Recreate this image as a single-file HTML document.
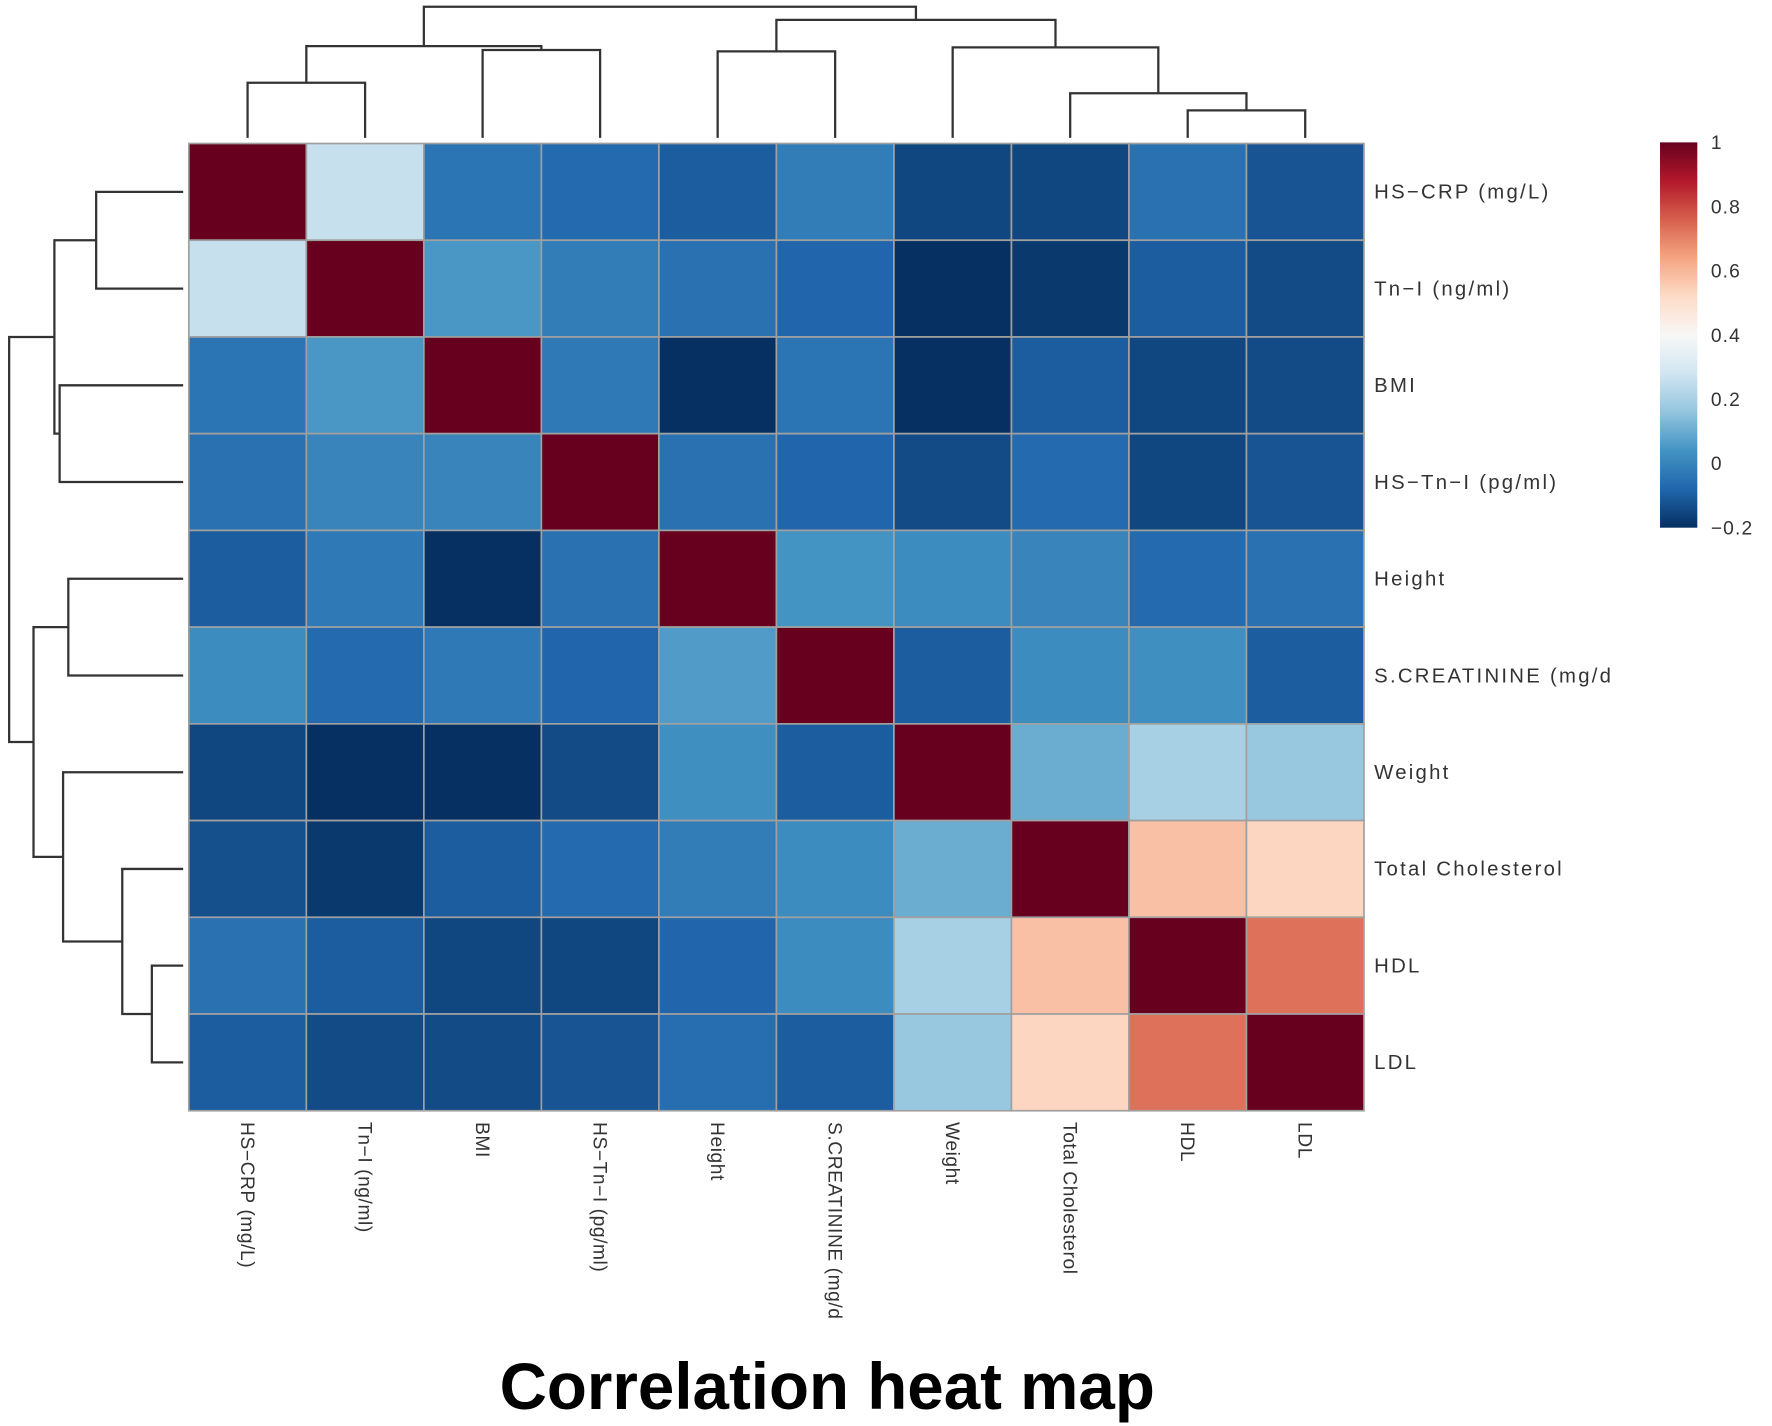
<!DOCTYPE html>
<html><head><meta charset="utf-8"><style>
html,body{margin:0;padding:0;background:#fff;}
svg{display:block;}
text{font-family:"Liberation Sans",sans-serif;}
</style></head><body>
<svg id="chart" width="1772" height="1426" viewBox="0 0 1568 1262" xmlns="http://www.w3.org/2000/svg">
<g id="dendTop"></g>
<g id="dendLeft"></g>
<g id="cells"></g>
<g id="rowLabels"></g>
<g id="colLabels"></g>
<g id="legend"></g>
<text x="732" y="1247" text-anchor="middle" font-size="58" font-weight="bold" fill="#000">Correlation heat map</text>
</svg>
<script>
const labels = ["HS\u2212CRP (mg/L)","Tn\u2212I (ng/ml)","BMI","HS\u2212Tn\u2212I (pg/ml)","Height","S.CREATININE (mg/d","Weight","Total Cholesterol","HDL","LDL"];
const row0 = [1, 0.26, -0.04, -0.07, -0.1, -0.02, -0.15, -0.15, -0.05, -0.12];
const row1 = [0.26, 1, 0.05, -0.02, -0.05, -0.08, -0.2, -0.18, -0.1, -0.14];
const row2 = [-0.04, 0.05, 1, -0.03, -0.2, -0.04, -0.24, -0.1, -0.15, -0.14];
const row3 = [-0.05, 0.0, 0.0, 1, -0.05, -0.08, -0.14, -0.07, -0.15, -0.12];
const row4 = [-0.1, -0.03, -0.2, -0.05, 1, 0.04, 0.02, 0.0, -0.07, -0.05];
const row5 = [0.02, -0.07, -0.03, -0.08, 0.06, 1, -0.1, 0.02, 0.03, -0.1];
const row6 = [-0.15, -0.2, -0.24, -0.14, 0.03, -0.1, 1, 0.1, 0.2, 0.17];
const row7 = [-0.13, -0.18, -0.1, -0.07, -0.02, 0.02, 0.1, 1, 0.58, 0.53];
const row8 = [-0.05, -0.1, -0.15, -0.15, -0.08, 0.02, 0.2, 0.58, 1, 0.73];
const row9 = [-0.1, -0.14, -0.14, -0.12, -0.06, -0.1, 0.17, 0.53, 0.73, 1];
const matrix = [row0,row1,row2,row3,row4,row5,row6,row7,row8,row9];
const legendTicks = [1, 0.8, 0.6, 0.4, 0.2, 0, -0.2];
const legendTickLabels = ["1","0.8","0.6","0.4","0.2","0","\u22120.2"];
// dendrogram merges: [left, right, height]; leaves 0..9, nodes 10+
const colMerges = [[0,1,0.42],[2,3,0.67],[10,11,0.70],[4,5,0.66],[8,9,0.21],[7,14,0.34],[6,15,0.69],[13,16,0.9],[12,17,1.0]];
const rowMerges = [[0,1,0.5],[2,3,0.71],[10,11,0.74],[4,5,0.66],[8,9,0.18],[7,14,0.35],[6,15,0.69],[13,16,0.86],[12,17,1.0]];

const NS="http://www.w3.org/2000/svg";
const X0=167,X1=1207,Y0=127,Y1=983,N=10;
const cw=(X1-X0)/N, ch=(Y1-Y0)/N;
const xc=i=>X0+cw*i, yc=j=>Y0+ch*j;
const stops=["#053061","#2166ac","#4393c3","#92c5de","#d1e5f0","#f7f7f7","#fddbc7","#f4a582","#d6604d","#b2182b","#67001f"];
const VMIN=-0.2,VMAX=1;
function hex(h){return [1,3,5].map(k=>parseInt(h.substr(k,2),16));}
function color(v){let t=(v-VMIN)/(VMAX-VMIN)*(stops.length-1);t=Math.max(0,Math.min(stops.length-1,t));
 const i=Math.min(stops.length-2,Math.floor(t)),f=t-i;const a=hex(stops[i]),b=hex(stops[i+1]);
 return "rgb("+a.map((c,k)=>Math.round(c+(b[k]-c)*f)).join(",")+")";}
function mk(tag,attrs,parent){const e=document.createElementNS(NS,tag);for(const k in attrs)e.setAttribute(k,attrs[k]);parent.appendChild(e);return e;}

const cells=document.getElementById('cells');
matrix.forEach((row,r)=>row.forEach((v,c)=>{
 const e=mk('rect',{x:xc(c),y:yc(r),width:cw,height:ch,fill:color(v),stroke:"#a0a0a0","stroke-width":1.5},cells);
 
 
}));

const rl=document.getElementById('rowLabels');
labels.forEach((l,i)=>{
 const t=mk('text',{x:1216,y:yc(i+0.5)+6,"font-size":18,"letter-spacing":2,fill:"#333"},rl);t.textContent=l;
 
 
});
const cl=document.getElementById('colLabels');
labels.forEach((l,i)=>{
 const x=xc(i+0.5)-6,y=993;
 const t=mk('text',{x:x,y:y,"font-size":17,"letter-spacing":0.5,fill:"#333",transform:`rotate(90 ${x} ${y})`},cl);t.textContent=l;
 
 
});

function drawDend(g,merges,vertical){
 const pos=[],ht=[];
 for(let i=0;i<N;i++){pos[i]=i+0.5;ht[i]=0;}
 merges.forEach((m,k)=>{
  const [a,b,h]=m;const id=N+k;pos[id]=(pos[a]+pos[b])/2;ht[id]=h;
  let d;
  if(vertical){
   const Y=hh=>122-hh*116;
   d=`M${xc(pos[a])} ${Y(ht[a])}V${Y(h)}H${xc(pos[b])}V${Y(ht[b])}`;
  } else {
   const X=hh=>162-hh*154;
   d=`M${X(ht[a])} ${yc(pos[a])}H${X(h)}V${yc(pos[b])}H${X(ht[b])}`;
  }
  const p=mk('path',{d:d,fill:"none",stroke:"#333","stroke-width":2},g);
  
  
 });
}
drawDend(document.getElementById('dendTop'),colMerges,true);
drawDend(document.getElementById('dendLeft'),rowMerges,false);

const lg=document.getElementById('legend');
const LX=1469,LW=33,LT=126,LB=467;
const defs=mk('defs',{},lg);
const grad=mk('linearGradient',{id:"cb",x1:0,y1:1,x2:0,y2:0},defs);
for(let i=0;i<=40;i++){const v=VMIN+(VMAX-VMIN)*i/40;mk('stop',{offset:i/40,"stop-color":color(v)},grad);}
const bar=mk('rect',{x:LX,y:LT,width:LW,height:LB-LT,fill:"url(#cb)"},lg);


const ly=v=>LB-(v-VMIN)/(VMAX-VMIN)*(LB-LT);
legendTicks.forEach((v,i)=>{
 const t=mk('text',{x:1514,y:ly(v)+6,"font-size":17,"letter-spacing":1,fill:"#333"},lg);t.textContent=legendTickLabels[i];
 
 
});
</script>
</body></html>
